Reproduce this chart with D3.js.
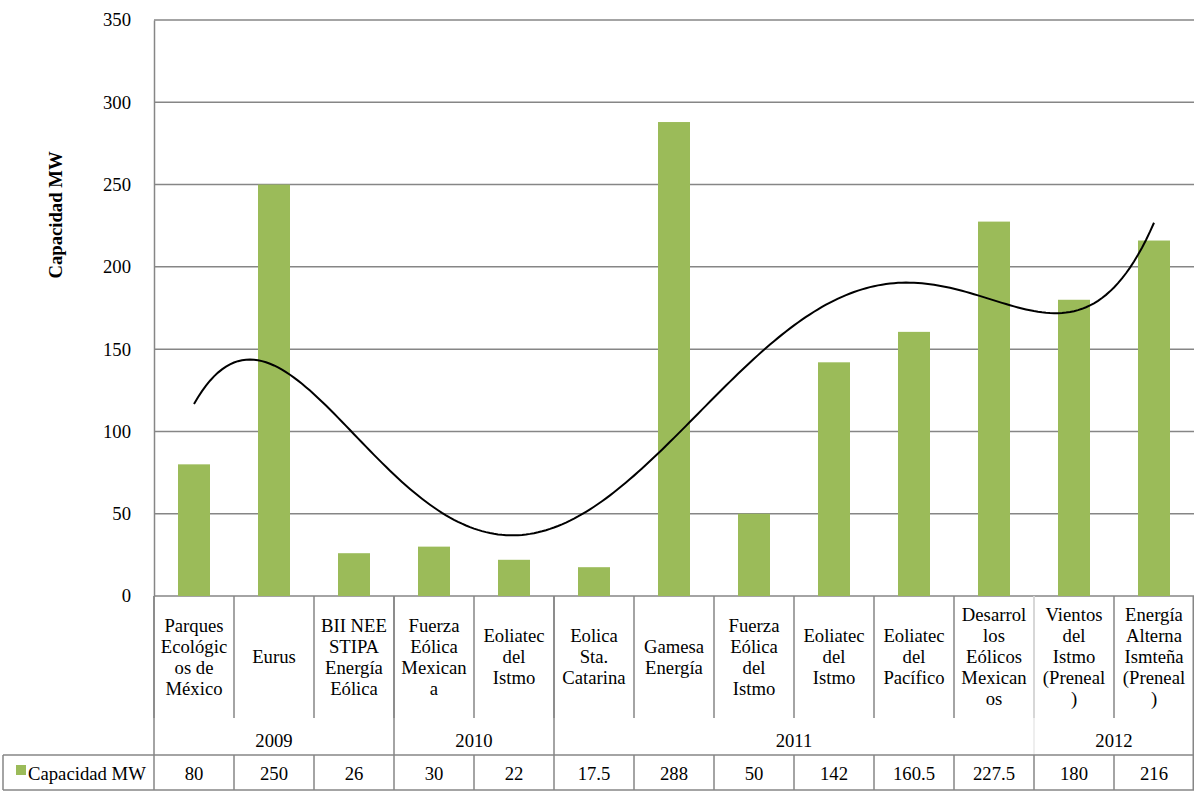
<!DOCTYPE html>
<html>
<head>
<meta charset="utf-8">
<script src="https://cdn.jsdelivr.net/npm/d3@7"></script>
<style>
  body { margin: 0; background: #fff; }
  text { font-family: "Liberation Serif", "Times New Roman", serif; fill: #000; }
</style>
</head>
<body>
<div id="chart"></div>
<script>
// category labels, wrapped as in the original
var categories = [
  "Parques\nEcológic\nos de\nMéxico",
  "Eurus",
  "BII NEE\nSTIPA\nEnergía\nEólica",
  "Fuerza\nEólica\nMexican\na",
  "Eoliatec\ndel\nIstmo",
  "Eolica\nSta.\nCatarina",
  "Gamesa\nEnergía",
  "Fuerza\nEólica\ndel\nIstmo",
  "Eoliatec\ndel\nIstmo",
  "Eoliatec\ndel\nPacífico",
  "Desarrol\nlos\nEólicos\nMexican\nos",
  "Vientos\ndel\nIstmo\n(Preneal\n)",
  "Energía\nAlterna\nIsmteña\n(Preneal\n)"
];
var capacidad = [80, 250, 26, 30, 22, 17.5, 288, 50, 142, 160.5, 227.5, 180, 216];
var years = ["2009", "2010", "2011", "2012"];
var yearSpans = [3, 2, 6, 2];
var yTicks = [0, 50, 100, 150, 200, 250, 300, 350];
var seriesName = "Capacidad MW";

var width = 1194, height = 792;
var L = 154, R = 1194, T = 20, B = 596;
var labelBottom = 718, yearBottom = 755, tableBottom = 790;
var green = "#9BBB59", grid = "#868686";
var fs = "18.7px";

var svg = d3.select("#chart").append("svg")
    .attr("width", width)
    .attr("height", height);

var ids = d3.range(categories.length);
var x = d3.scaleBand().domain(ids).range([L, R])
    .paddingInner(0.6).paddingOuter(0.3);
var step = x.step();
var y = d3.scaleLinear().domain([0, 350]).range([B, T]);

// gridlines
svg.append("g").selectAll("line")
    .data(yTicks)
    .enter().append("line")
    .attr("x1", L).attr("x2", R)
    .attr("y1", function(d) { return y(d); })
    .attr("y2", function(d) { return y(d); })
    .style("stroke", grid).style("stroke-width", 1.5);

// y axis
var yAxis = svg.append("g")
    .attr("transform", "translate(" + L + ",0)")
    .call(d3.axisLeft(y).tickValues(yTicks).tickSize(0).tickPadding(23));
yAxis.select(".domain").style("stroke", grid).style("stroke-width", 1.5);
yAxis.selectAll("text")
    .style("font-family", "Liberation Serif").style("font-size", fs);

svg.append("text")
    .attr("transform", "translate(62,215) rotate(-90)")
    .attr("text-anchor", "middle")
    .style("font-size", fs).style("font-weight", "bold")
    .text(seriesName);

// bars
svg.append("g").selectAll("rect")
    .data(capacidad)
    .enter().append("rect")
    .attr("x", function(d, i) { return x(i); })
    .attr("y", function(d) { return y(d); })
    .attr("width", x.bandwidth())
    .attr("height", function(d) { return B - y(d); })
    .style("fill", green);

// polynomial trendline (order 5, least squares on the series)
function polyFit(xs, ys, order) {
  var n = order + 1;
  var A = [], b = [];
  for (var r = 0; r < n; r++) {
    A.push(new Array(n).fill(0));
    b.push(0);
  }
  xs.forEach(function(xv, k) {
    for (var r = 0; r < n; r++) {
      b[r] += ys[k] * Math.pow(xv, r);
      for (var c = 0; c < n; c++) A[r][c] += Math.pow(xv, r + c);
    }
  });
  for (var col = 0; col < n; col++) {
    var piv = col;
    for (var r2 = col + 1; r2 < n; r2++)
      if (Math.abs(A[r2][col]) > Math.abs(A[piv][col])) piv = r2;
    var tmp = A[col]; A[col] = A[piv]; A[piv] = tmp;
    var tb = b[col]; b[col] = b[piv]; b[piv] = tb;
    for (var r3 = col + 1; r3 < n; r3++) {
      var f = A[r3][col] / A[col][col];
      for (var c2 = col; c2 < n; c2++) A[r3][c2] -= f * A[col][c2];
      b[r3] -= f * b[col];
    }
  }
  var coef = new Array(n).fill(0);
  for (var r4 = n - 1; r4 >= 0; r4--) {
    var s = b[r4];
    for (var c3 = r4 + 1; c3 < n; c3++) s -= A[r4][c3] * coef[c3];
    coef[r4] = s / A[r4][r4];
  }
  return function(xv) {
    return coef.reduce(function(acc, cf, p) { return acc + cf * Math.pow(xv, p); }, 0);
  };
}
// scaled index so the normal equations stay well conditioned
var tIdx = ids.map(function(i) { return (i - 6) / 6; });
var trend = polyFit(tIdx, capacidad, 5);
var xc = d3.scaleLinear().domain([0, categories.length - 1])
    .range([x(0) + x.bandwidth() / 2, x(categories.length - 1) + x.bandwidth() / 2]);
var trendPts = d3.range(0, categories.length - 1 + 0.001, 0.05);
svg.append("path")
    .datum(trendPts)
    .attr("d", d3.line()
        .x(function(t) { return xc(t); })
        .y(function(t) { return y(trend((t - 6) / 6)); }))
    .style("fill", "none").style("stroke", "#000").style("stroke-width", 2);

// category label cells
var cells = svg.append("g");
ids.forEach(function(i) {
  var x0 = L + i * step;
  cells.append("line")
      .attr("x1", x0).attr("x2", x0).attr("y1", B).attr("y2", labelBottom)
      .style("stroke", grid).style("stroke-width", 1.5);
  var lines = categories[i].split("\n");
  var lh = 21;
  var t = cells.append("text")
      .attr("text-anchor", "middle")
      .style("font-size", fs);
  lines.forEach(function(ln, k) {
    t.append("tspan")
        .attr("x", x0 + step / 2)
        .attr("y", 663 + (k - (lines.length - 1) / 2) * lh)
        .text(ln);
  });
});

// year groups
var acc = 0;
years.forEach(function(yr, g) {
  var x0 = L + acc * step, x1 = L + (acc + yearSpans[g]) * step;
  cells.append("line")
      .attr("x1", x0).attr("x2", x0).attr("y1", B).attr("y2", yearBottom)
      .style("stroke", g === 3 ? "#e8e8e8" : grid).style("stroke-width", 1.5);
  cells.append("text")
      .attr("x", (x0 + x1) / 2).attr("y", 747)
      .attr("text-anchor", "middle")
      .style("font-size", fs)
      .text(yr);
  acc += yearSpans[g];
});
cells.append("line")
    .attr("x1", R - 0.75).attr("x2", R - 0.75).attr("y1", B).attr("y2", tableBottom)
    .style("stroke", grid).style("stroke-width", 1.5);

// data table row
var table = svg.append("g");
table.append("line")
    .attr("x1", 3).attr("x2", R).attr("y1", yearBottom).attr("y2", yearBottom)
    .style("stroke", grid).style("stroke-width", 1.5);
table.append("line")
    .attr("x1", 3).attr("x2", R).attr("y1", tableBottom).attr("y2", tableBottom)
    .style("stroke", grid).style("stroke-width", 1.5);
table.append("line")
    .attr("x1", 3).attr("x2", 3).attr("y1", yearBottom).attr("y2", tableBottom)
    .style("stroke", grid).style("stroke-width", 1.5);
ids.forEach(function(i) {
  var x0 = L + i * step;
  table.append("line")
      .attr("x1", x0).attr("x2", x0).attr("y1", yearBottom).attr("y2", tableBottom)
      .style("stroke", grid).style("stroke-width", 1.5);
  table.append("text")
      .attr("x", x0 + step / 2).attr("y", 780)
      .attr("text-anchor", "middle")
      .style("font-size", fs)
      .text(capacidad[i]);
});
table.append("rect")
    .attr("x", 16).attr("y", 765).attr("width", 10).attr("height", 10)
    .style("fill", green);
table.append("text")
    .attr("x", 28).attr("y", 780)
    .style("font-size", fs)
    .text(seriesName);
</script>
</body>
</html>
